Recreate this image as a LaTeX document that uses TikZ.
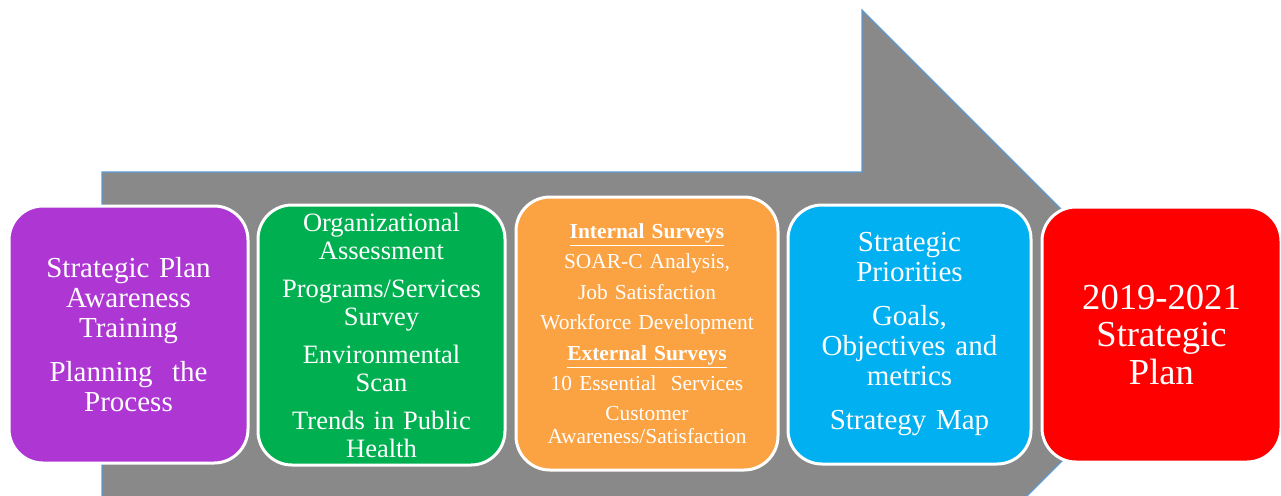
\documentclass[tikz,border=0pt]{standalone}
\usepackage{fontspec}
\setmainfont{Liberation Serif}
\usepackage{tikz}

\definecolor{arrowgray}{HTML}{898989}
\definecolor{arrowedge}{HTML}{5B9BD5}
\definecolor{stagepurple}{HTML}{AE37D3}
\definecolor{stagegreen}{HTML}{00B050}
\definecolor{stageorange}{HTML}{FBA343}
\definecolor{stageblue}{HTML}{00B0F0}
\definecolor{stagered}{HTML}{FF0000}

\tikzset{
  stage/.style={draw=white, line width=1.5pt, rounded corners=17pt,
    text=white, align=center, inner sep=0pt},
  bigtext/.style={font=\fontsize{14.5}{15}\selectfont},
}

\begin{document}
\begin{tikzpicture}[x=0.5pt,y=-0.5pt]
    \useasboundingbox (0,0) rectangle (1281,495);
    \clip (0,0) rectangle (1281,495);
      % big arrow
      \fill [arrowgray, draw=arrowedge, line width=0.6pt]
        (102,172) -- (862,172) -- (862,10) -- (1187.5,335.5)
        -- (862,661) -- (862,499) -- (102,499) -- cycle;
      % stages
      \node [stage, bigtext, fill=stagepurple, minimum width=119.5pt,
        minimum height=128.5pt, text width=115pt] (s1) at (128.5,334.5)
        {Strategic Plan\\Awareness\\Training\\[7pt]Planning~ the\\Process};
      \node [stage, fill=stagegreen, minimum width=123.5pt,
        minimum height=130pt, text width=120pt,
        font=\fontsize{13.25}{14}\selectfont] (s2) at (381.5,335)
        {Organizational\\Assessment\\[5pt]Programs/Services\\Survey\\[5pt]%
         Environmental\\Scan\\[5pt]Trends in Public\\Health};
      \node [stage, fill=stageorange, minimum width=131pt,
        minimum height=136.5pt, text width=127pt,
        font=\fontsize{10.7}{15.2}\selectfont] (s3) at (647,333.5)
        {\underline{\textbf{Internal Surveys}}\\SOAR-C Analysis,\\Job Satisfaction\\%
         Workforce Development\\\underline{\textbf{External Surveys}}\\%
         10 Essential~ Services\\Customer\\[-4pt]Awareness/Satisfaction};
      \node [stage, bigtext, fill=stageblue, minimum width=121.5pt,
        minimum height=129.5pt, text width=117pt] (s4) at (909.5,334.5)
        {Strategic\\Priorities\\[7pt]Goals,\\Objectives and\\metrics\\[7pt]Strategy Map};
      \node [stage, fill=stagered, minimum width=119.5pt,
        minimum height=127.5pt, text width=115pt,
        font=\fontsize{18.3}{18.75}\selectfont] (s5) at (1161.5,334.5)
        {2019-2021\\Strategic\\Plan};
\end{tikzpicture}
\end{document}
